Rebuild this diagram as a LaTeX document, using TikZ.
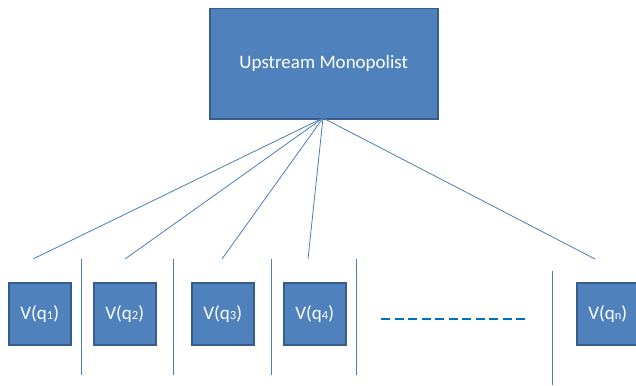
\documentclass[tikz,border=0pt]{standalone}
\usepackage{fontspec}
\setmainfont{Carlito}
\definecolor{boxfill}{RGB}{79,129,189}
\definecolor{boxedge}{RGB}{56,93,138}
\definecolor{linkblue}{RGB}{74,126,187}
\definecolor{dotblue}{RGB}{0,112,192}
\tikzset{
  firm/.style={draw=boxedge, line width=1.5pt, fill=boxfill, text=white,
    inner sep=0pt, anchor=north west, font=\fontsize{19}{23}\selectfont},
  buyer/.style={firm, minimum width=62pt, minimum height=62pt},
  link/.style={draw=linkblue, line width=0.8pt},
  divider/.style={draw=linkblue, line width=1pt},
  etc/.style={draw=dotblue, line width=2.2pt, dash pattern=on 9pt off 4.5pt}
}
\newcommand{\vq}[1]{V(q{\fontsize{12.5}{12.5}\selectfont #1})}
\begin{document}
\begin{tikzpicture}[x=1pt,y=-1pt]
  \useasboundingbox (0,0) rectangle (636,385);
  % upstream firm
  \node[firm, minimum width=228pt, minimum height=110pt] (up) at (209,8) {Upstream Monopolist};
  \coordinate (hub) at (323,118);
  % downstream buyers
  \node[buyer] (b1) at (8,282) {\vq{1}};
  \node[buyer] (b2) at (93,282) {\vq{2}};
  \node[buyer] (b3) at (191,282) {\vq{3}};
  \node[buyer] (b4) at (283,282) {\vq{4}};
  \node[buyer] (bn) at (576,282) {\vq{n}};
  % ends of the fan lines
  \coordinate (e1) at (33,259);
  \coordinate (e2) at (125,259);
  \coordinate (e3) at (222,259);
  \coordinate (e4) at (308,259);
  \coordinate (en) at (595,259);
  \foreach \e in {e1,e2,e3,e4,en} \draw[link] (hub) -- (\e);
  % dividers between buyers
  \coordinate (d1t) at (81,259);  \coordinate (d1b) at (81,375);
  \coordinate (d2t) at (173,259); \coordinate (d2b) at (173,375);
  \coordinate (d3t) at (271,259); \coordinate (d3b) at (271,375);
  \coordinate (d4t) at (356,259); \coordinate (d4b) at (356,375);
  \coordinate (d5t) at (552,271); \coordinate (d5b) at (552,385);
  \foreach \d in {d1,d2,d3,d4,d5} \draw[divider] (\d t) -- (\d b);
  % ellipsis for the omitted buyers
  \coordinate (gs) at (381,319);
  \coordinate (ge) at (528,319);
  \draw[etc] (gs) -- (ge);
\end{tikzpicture}
\end{document}
